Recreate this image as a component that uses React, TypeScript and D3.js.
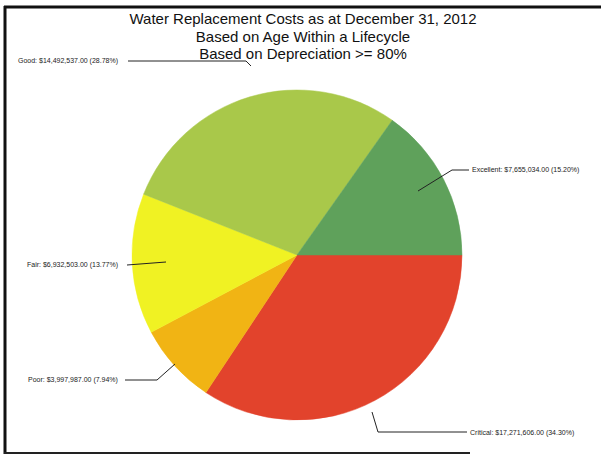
import React from "react";
import * as d3 from "d3";

const titleLines = [
  "Water  Replacement Costs as at December 31, 2012",
  "Based on Age Within a Lifecycle",
  "Based on Depreciation >= 80%",
];

const categories = ["Critical", "Poor", "Fair", "Good", "Excellent"];
const values = [17271606, 3997987, 6932503, 14492537, 7655034];
const colors = ["#e2432c", "#f1b414", "#f0f223", "#a9c84a", "#5fa15b"];

const labelPos: Record<string, { tx: number; ty: number; path: [number, number][] }> = {
  Good: { tx: 18, ty: 63, path: [[128, 61], [246, 61], [251, 66]] },
  Excellent: { tx: 472, ty: 172, path: [[418, 191], [452, 170], [469, 170]] },
  Fair: { tx: 27, ty: 267, path: [[127, 265], [166, 262]] },
  Poor: { tx: 28, ty: 382, path: [[125, 380], [157, 380], [175, 364]] },
  Critical: { tx: 470, ty: 435, path: [[372, 412], [378, 432], [467, 432]] },
};

const fmt = d3.format(",.2f");

export default function App() {
  const W = 601, H = 457;
  const cx = 297, cy = 255, r = 165;
  const total = d3.sum(values);
  const data = categories.map((c, i) => ({ c, v: values[i], col: colors[i] }));
  const pie = d3
    .pie<any>()
    .value((d) => d.v)
    .sort(null)
    .startAngle(Math.PI / 2)
    .endAngle(Math.PI / 2 + 2 * Math.PI);
  const arcs = pie(data);
  const arc = d3.arc<any>().innerRadius(0).outerRadius(r);
  const line = d3.line();

  return (
    <svg width={W} height={H} style={{ position: "absolute", left: 0, top: 0, background: "#fff" }}>
      <rect x={0} y={0} width={W} height={H} fill="#fff" />
      <line x1={4} y1={7} x2={601} y2={7} stroke="#111" strokeWidth={3} />
      <line x1={5} y1={6} x2={5} y2={454} stroke="#111" strokeWidth={3} />
      <line x1={4} y1={453} x2={470} y2={453} stroke="#222" strokeWidth={2} />
      {titleLines.map((t, i) => (
        <text
          key={i}
          x={303}
          y={24 + i * 17.5}
          textAnchor="middle"
          fontFamily="Liberation Sans, Arial, sans-serif"
          fontSize={15}
          fill="#111"
        >
          {t}
        </text>
      ))}
      <g transform={`translate(${cx},${cy})`}>
        {arcs.map((a, i) => (
          <path key={i} d={arc(a) as string} fill={a.data.col} stroke={a.data.col} strokeWidth={0.5} />
        ))}
      </g>
      {data.map((d) => {
        const lp = labelPos[d.c];
        const pct = ((d.v / total) * 100).toFixed(2);
        return (
          <g key={d.c}>
            <path d={line(lp.path) as string} fill="none" stroke="#222" strokeWidth={1} />
            <text
              x={lp.tx}
              y={lp.ty}
              fontFamily="Liberation Sans, Arial, sans-serif"
              fontSize={7}
              fill="#222"
            >
              {`${d.c}: $${fmt(d.v)} (${pct}%)`}
            </text>
          </g>
        );
      })}
    </svg>
  );
}
